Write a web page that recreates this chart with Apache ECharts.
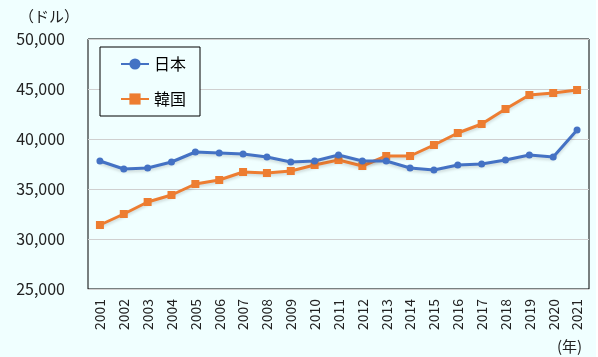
<!DOCTYPE html>
<html>
<head>
<meta charset="utf-8">
<script src="https://cdn.jsdelivr.net/npm/echarts@6/dist/echarts.min.js"></script>
<style>
html,body{margin:0;padding:0;background:#ffffff;}
#chart{width:596px;height:357px;background:#F0FFFF;}
</style>
</head>
<body>
<div id="chart"></div>
<script>
const years = ['2001','2002','2003','2004','2005','2006','2007','2008','2009','2010','2011','2012','2013','2014','2015','2016','2017','2018','2019','2020','2021'];
const japan = [37800,37000,37100,37700,38700,38600,38500,38200,37700,37800,38400,37800,37800,37100,36900,37400,37500,37900,38400,38200,40900];
const korea = [31400,32500,33700,34400,35500,35900,36700,36600,36800,37400,37900,37300,38300,38300,39400,40600,41500,43000,44400,44600,44900];
const yTicks = {min:25000, max:50000, interval:5000};
const fontJP = '"Noto Sans CJK JP", "Noto Sans", sans-serif';

const chart = echarts.init(document.getElementById('chart'), null, {renderer:'canvas'});
chart.setOption({
  backgroundColor: '#F0FFFF',
  animation: false,
  title: [
    {text:'（ドル）', left: 14, top: 4, textStyle:{fontFamily:fontJP, fontSize:15, fontWeight:'normal', color:'#222'}},
    {text:'(年)', left: 552, top: 334, textStyle:{fontFamily:fontJP, fontSize:15, fontWeight:'normal', color:'#222'}}
  ],
  grid: {left: 88, right: 7, top: 39, bottom: 68, show: true, borderColor: '#000', borderWidth: 1, backgroundColor: 'transparent'},
  legend: {
    orient: 'vertical',
    left: 100, top: 47,
    padding: [9, 14, 9, 20],
    itemGap: 19,
    itemWidth: 28, itemHeight: 14,
    borderColor: '#000', borderWidth: 1,
    backgroundColor: '#F0FFFF',
    textStyle: {fontFamily: fontJP, fontSize: 16, lineHeight: 16, color: '#000'},
    data: ['日本', '韓国']
  },
  xAxis: {
    type: 'category',
    data: years,
    boundaryGap: true,
    axisLine: {show: true, lineStyle: {color: '#d0d0d0', width: 1}},
    axisTick: {show: false},
    axisLabel: {rotate: 90, margin: 10, fontFamily: fontJP, fontSize: 14, color: '#222', interval: 0}
  },
  yAxis: {
    type: 'value',
    min: yTicks.min, max: yTicks.max, interval: yTicks.interval,
    axisLine: {show: false},
    axisTick: {show: false},
    splitLine: {show: true, lineStyle: {color: '#d0d0d0', width: 1}},
    axisLabel: {margin: 23, fontFamily: fontJP, fontSize: 16, color: '#222',
      formatter: v => v.toLocaleString('en-US')}
  },
  series: [
    {
      name: '日本', type: 'line', data: japan,
      symbol: 'circle', symbolSize: 7,
      lineStyle: {color: '#4472C4', width: 3, shadowColor: 'rgba(0,0,0,0.15)', shadowBlur: 3, shadowOffsetY: 2},
      itemStyle: {color: '#4472C4'}, z: 3
    },
    {
      name: '韓国', type: 'line', data: korea,
      symbol: 'rect', symbolSize: 8,
      lineStyle: {color: '#ED7D31', width: 3, shadowColor: 'rgba(0,0,0,0.15)', shadowBlur: 3, shadowOffsetY: 2},
      itemStyle: {color: '#ED7D31'}, z: 2
    }
  ]
});
</script>
</body>
</html>
